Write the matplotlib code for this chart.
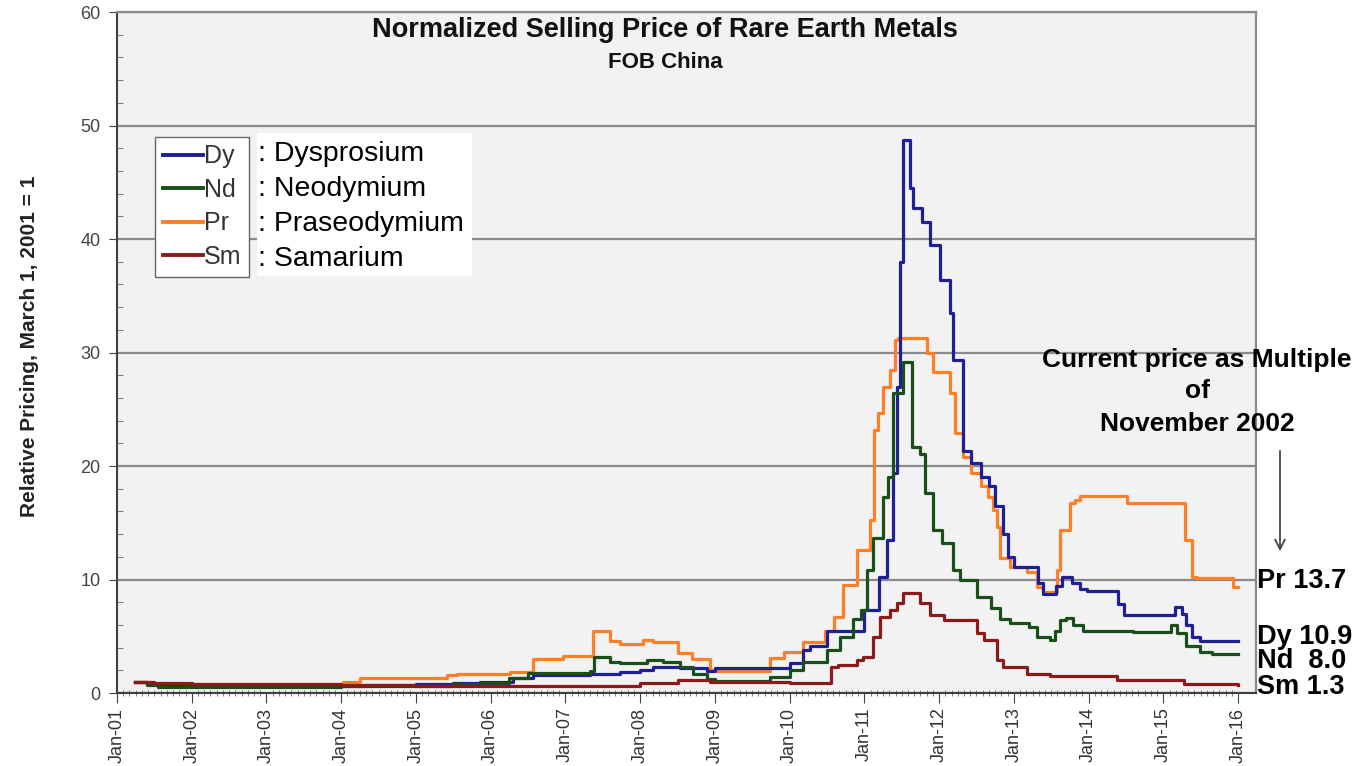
import numpy as np
import matplotlib.pyplot as plt
from matplotlib.patches import Rectangle

plt.rcParams['font.family'] = ['Liberation Sans', 'DejaVu Sans']

# ---------------------------------- dados (ano decimal, preço relativo)
anos_dy = [2001.24, 2001.40, 2001.55, 2004.00, 2004.30, 2005.00, 2005.50, 2005.86, 2006.30, 2006.57,
           2007.33, 2007.73, 2008.00, 2008.17, 2008.53, 2008.90, 2009.00, 2010.00, 2010.18, 2010.27,
           2010.50, 2011.00, 2011.20, 2011.30, 2011.38, 2011.44, 2011.48, 2011.52, 2011.61, 2011.65,
           2011.77, 2011.88, 2012.01, 2012.15, 2012.19, 2012.32, 2012.43, 2012.56, 2012.67, 2012.75,
           2012.85, 2012.92, 2013.00, 2013.32, 2013.39, 2013.56, 2013.64, 2013.78, 2013.89, 2013.98,
           2014.40, 2014.47, 2015.16, 2015.25, 2015.30, 2015.38, 2015.49, 2016.00]
dy = [1.0, 0.8, 0.6, 0.6, 0.7, 0.75, 0.85, 1.0, 1.3, 1.6,
      1.7, 1.85, 2.0, 2.3, 2.2, 1.9, 2.2, 2.6, 3.8, 4.1,
      5.5, 7.3, 10.2, 13.5, 19.4, 27.0, 38.0, 48.7, 44.5, 42.7,
      41.5, 39.5, 36.4, 33.5, 29.3, 21.3, 20.3, 19.0, 18.2, 16.5,
      14.0, 12.0, 11.1, 9.7, 8.7, 9.4, 10.2, 9.7, 9.2, 9.0,
      7.8, 6.9, 7.6, 7.0, 6.0, 4.9, 4.6, 4.6]

anos_nd = [2001.24, 2001.40, 2001.55, 2004.00, 2005.50, 2005.86, 2006.25, 2006.50, 2007.33, 2007.38,
           2007.60, 2007.73, 2008.09, 2008.30, 2008.53, 2008.71, 2008.90, 2009.00, 2009.74, 2010.00,
           2010.18, 2010.50, 2010.67, 2010.85, 2010.95, 2011.04, 2011.12, 2011.25, 2011.32, 2011.38,
           2011.52, 2011.64, 2011.75, 2011.81, 2011.92, 2012.04, 2012.19, 2012.28, 2012.51, 2012.70,
           2012.82, 2012.95, 2013.20, 2013.31, 2013.49, 2013.55, 2013.62, 2013.70, 2013.79, 2013.93,
           2014.60, 2015.10, 2015.18, 2015.30, 2015.49, 2015.65, 2016.00]
nd = [1.0, 0.7, 0.55, 0.6, 0.8, 0.9, 1.3, 1.75, 1.9, 3.2,
      2.7, 2.6, 2.9, 2.7, 2.3, 1.7, 1.2, 1.1, 1.4, 2.0,
      2.7, 3.8, 4.9, 6.5, 7.3, 10.8, 13.7, 17.3, 19.0, 26.4,
      29.2, 21.7, 21.1, 17.6, 14.4, 13.2, 10.8, 10.0, 8.5, 7.5,
      6.5, 6.2, 5.8, 4.9, 4.7, 5.5, 6.4, 6.6, 6.0, 5.5,
      5.4, 6.0, 5.3, 4.1, 3.6, 3.4, 3.4]

anos_pr = [2001.24, 2001.45, 2001.70, 2004.02, 2004.25, 2005.42, 2005.55, 2006.26, 2006.57, 2006.97,
           2007.37, 2007.60, 2007.73, 2008.04, 2008.17, 2008.50, 2008.70, 2008.94, 2009.00, 2009.74,
           2009.92, 2010.18, 2010.47, 2010.60, 2010.72, 2010.90, 2011.07, 2011.13, 2011.18, 2011.25,
           2011.34, 2011.41, 2011.45, 2011.84, 2011.92, 2012.15, 2012.21, 2012.32, 2012.43, 2012.56,
           2012.65, 2012.72, 2012.78, 2012.82, 2012.95, 2013.18, 2013.31, 2013.39, 2013.58, 2013.62,
           2013.75, 2013.82, 2013.89, 2014.51, 2015.29, 2015.38, 2015.45, 2015.93, 2016.00]
pr = [1.0, 0.85, 0.8, 1.0, 1.3, 1.6, 1.7, 1.85, 3.0, 3.3,
      5.5, 4.6, 4.3, 4.7, 4.5, 3.5, 3.0, 2.0, 1.9, 3.1,
      3.6, 4.5, 5.5, 6.7, 9.5, 12.6, 15.2, 23.2, 24.7, 27.0,
      28.5, 31.1, 31.3, 30.0, 28.3, 26.4, 22.9, 20.8, 19.4, 18.2,
      17.3, 16.1, 14.6, 11.9, 11.1, 10.7, 9.3, 8.9, 10.8, 14.4,
      16.7, 17.0, 17.4, 16.7, 13.5, 10.2, 10.1, 9.3, 9.3]

anos_sm = [2001.24, 2001.50, 2002.00, 2004.00, 2005.00, 2007.50, 2008.00, 2008.50, 2008.94, 2010.00,
           2010.55, 2010.65, 2010.90, 2010.98, 2011.12, 2011.21, 2011.34, 2011.44, 2011.52, 2011.75,
           2011.88, 2012.06, 2012.51, 2012.60, 2012.78, 2012.86, 2013.18, 2013.49, 2014.38, 2015.27,
           2016.00]
sm = [1.0, 0.85, 0.75, 0.7, 0.65, 0.6, 0.85, 1.15, 1.0, 0.9,
      2.3, 2.5, 2.9, 3.2, 4.9, 6.7, 7.3, 7.9, 8.8, 7.9,
      6.9, 6.4, 5.3, 4.7, 2.9, 2.3, 1.7, 1.5, 1.15, 0.8,
      0.7]

anos_ticks = list(range(2001, 2017))
rotulos_x = ['Jan-%02d' % (a % 100) for a in anos_ticks]

W, H = 1372, 766
fig = plt.figure(figsize=(W / 100, H / 100), dpi=100)
ax = fig.add_axes([117 / W, 1 - 693 / H, (1256 - 117) / W, (693 - 12) / H])
ax.set_facecolor('#f2f2f2')

l_dy, = ax.plot(anos_dy, dy, drawstyle='steps-post', color='#1f1f96', lw=2.3, zorder=3)
l_nd, = ax.plot(anos_nd, nd, drawstyle='steps-post', color='#1a4f1a', lw=2.3, zorder=3)
l_pr, = ax.plot(anos_pr, pr, drawstyle='steps-post', color='#ff7f27', lw=2.3, zorder=2)
l_sm, = ax.plot(anos_sm, sm, drawstyle='steps-post', color='#8b1a1a', lw=2.3, zorder=4)

ax.set_xlim(2001, 2016.24)
ax.set_ylim(0, 60)
ax.set_yticks(range(0, 61, 10))
ax.set_yticks(range(0, 61, 2), minor=True)
ax.set_xticks(anos_ticks)
ax.set_xticklabels(rotulos_x, rotation=90, fontsize=13, color='#333333')
ax.set_xticks(np.arange(2001, 2016.01, 1 / 12), minor=True)
ax.tick_params(axis='y', labelsize=13, labelcolor='#444444', direction='out', length=6, color='#444444', pad=6)
ax.tick_params(axis='y', which='minor', direction='in', length=4, color='#666666')
ax.tick_params(axis='x', direction='out', length=7, color='#444444')
ax.tick_params(axis='x', which='minor', direction='inout', length=5, color='#666666')
ax.grid(axis='y', which='major', color='#8a8a8a', lw=1.6)
for lado in ['left', 'bottom']:
    ax.spines[lado].set_color('#404040')
    ax.spines[lado].set_linewidth(1.5)
for lado in ['top', 'right']:
    ax.spines[lado].set_color('#8a8a8a')
    ax.spines[lado].set_linewidth(1.6)

ax.set_ylabel('Relative Pricing, March 1, 2001 = 1', fontsize=15, fontweight='bold', color='#222222')
ax.yaxis.label.set_va('center')
ax.yaxis.set_label_coords((30 - 117) / (1256 - 117), (693 - 346) / 681)

fig.text(665 / W, 1 - 30 / H, 'Normalized Selling Price of Rare Earth Metals', ha='center', va='center',
         fontsize=19.5, fontweight='bold', color='#111111')
fig.text(665 / W, 1 - 62 / H, 'FOB China', ha='center', va='center', fontsize=16, fontweight='bold',
         color='#111111')

# legenda
leg = ax.legend([l_dy, l_nd, l_pr, l_sm], ['Dy', 'Nd', 'Pr', 'Sm'], loc='upper left',
                bbox_to_anchor=(155 / W, 1 - 137 / H), bbox_transform=fig.transFigure,
                borderaxespad=0, fontsize=18, handlelength=1.6, handletextpad=0.05,
                borderpad=0.3, labelspacing=0.38, fancybox=False, framealpha=1, edgecolor='#666666')
for t in leg.get_texts():
    t.set_color('#333333')
for h in leg.get_lines():
    h.set_linewidth(2.8)

fig.patches.append(Rectangle((257 / W, 1 - 276 / H), (472 - 257) / W, (276 - 133) / H,
                             transform=fig.transFigure, facecolor='white', edgecolor='none', zorder=5))
nomes = [': Dysprosium', ': Neodymium', ': Praseodymium', ': Samarium']
for i, nome in enumerate(nomes):
    fig.text(258 / W, 1 - (154 + 35 * i) / H, nome, ha='left', va='center', fontsize=20.5, color='black', zorder=6)

# anotação da direita
fig.text(1197 / W, 1 - 360 / H, 'Current price as Multiple', ha='center', va='center', fontsize=19,
         fontweight='bold')
fig.text(1197 / W, 1 - 391 / H, 'of', ha='center', va='center', fontsize=19, fontweight='bold')
fig.text(1197 / W, 1 - 424 / H, 'November 2002', ha='center', va='center', fontsize=19, fontweight='bold')
ax.annotate('', xy=(1280 / W, 1 - 554 / H), xytext=(1280 / W, 1 - 448 / H), xycoords='figure fraction',
            textcoords='figure fraction',
            arrowprops=dict(arrowstyle='->,head_length=0.7,head_width=0.35', color='#444444', lw=1.3))

finais = ['Pr 13.7', 'Dy 10.9', 'Nd  8.0', 'Sm 1.3']
pos_y = [581, 637, 661, 687]
for txt, py in zip(finais, pos_y):
    fig.text(1257 / W, 1 - py / H, txt, ha='left', va='center', fontsize=19.5, fontweight='bold')

plt.savefig('out.png', dpi=100)
